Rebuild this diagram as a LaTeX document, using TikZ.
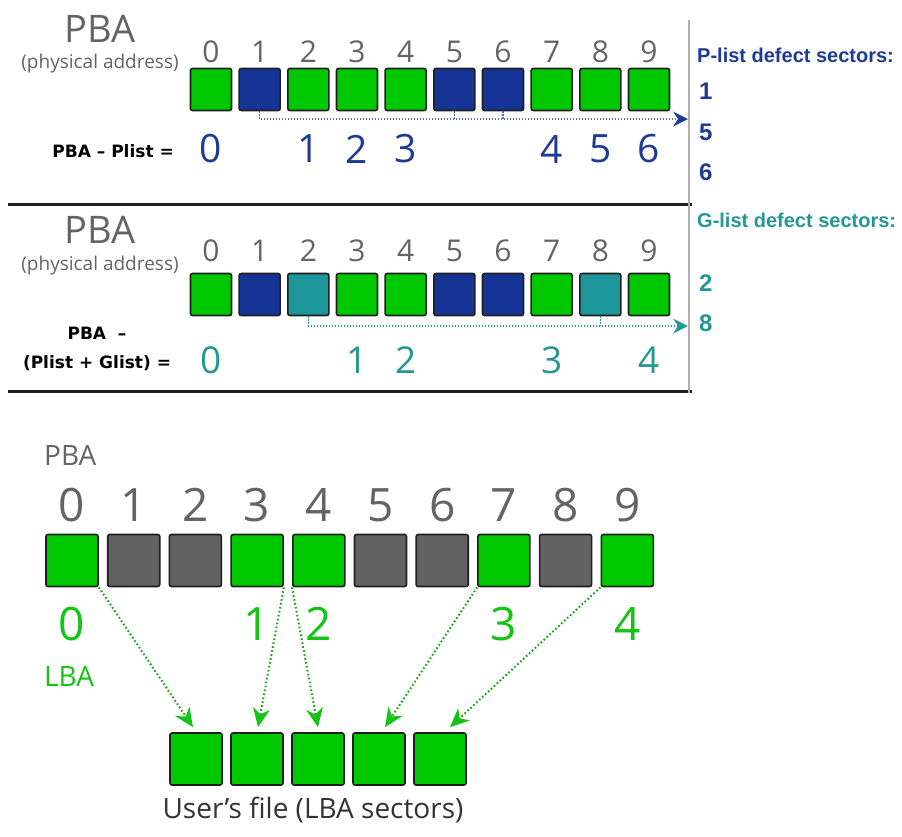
\documentclass[tikz,border=0pt]{standalone}
\usepackage{fontspec}
\setmainfont{Open Sans}
\newfontfamily\labfont{DejaVu Sans}
\newfontfamily\listfont{Liberation Sans}
\usetikzlibrary{arrows.meta,calc}

\definecolor{sqgreen}{RGB}{0,200,0}
\definecolor{sqblue}{RGB}{22,52,150}
\definecolor{sqteal}{RGB}{28,150,152}
\definecolor{sqdark}{RGB}{98,98,98}
\definecolor{sqedge}{RGB}{30,30,30}
\definecolor{txtgray}{RGB}{100,100,100}
\definecolor{txtblue}{RGB}{30,58,150}
\definecolor{txtteal}{RGB}{35,150,150}
\definecolor{txtgreen}{RGB}{20,195,20}
\definecolor{rulegray}{RGB}{175,175,175}

\tikzset{
  cell/.style={draw=sqedge, line width=1.6pt, rounded corners=2pt, inner sep=0pt},
  celltop/.style={cell, minimum width=41pt, minimum height=42pt},
  cellbig/.style={cell, minimum width=52pt, minimum height=52pt},
  fs/.style={font=\fontsize{#1}{#1}\selectfont},
  pbatitle/.style={inner sep=0pt, text=txtgray, fs=38},
  physlabel/.style={inner sep=0pt, text=txtgray, fs=19},
  graynum/.style={inner sep=0pt, text=txtgray, fs=30},
  graynumbig/.style={inner sep=0pt, text=txtgray, fs=46},
  bluenum/.style={inner sep=0pt, text=txtblue, fs=39},
  tealnum/.style={inner sep=0pt, text=txtteal, fs=37},
  greennum/.style={inner sep=0pt, text=txtgreen, fs=46},
  formula/.style={inner sep=0pt, text=black, font=\labfont\bfseries\fontsize{17}{21}\selectfont, align=center},
  listhead/.style={inner sep=0pt, anchor=west, font=\listfont\bfseries\fontsize{20}{20}\selectfont},
  listnum/.style={inner sep=0pt, anchor=west, font=\listfont\bfseries\fontsize{24}{24}\selectfont},
  pdots/.style={draw=txtblue!75, line width=1.4pt, dash pattern=on 1.2pt off 1.8pt},
  gdots/.style={draw=txtteal, line width=1.4pt, dash pattern=on 1.2pt off 1.8pt},
  lbadots/.style={draw=txtgreen!85!black, line width=2pt, dash pattern=on 1.6pt off 2.4pt, shorten >=10pt},
  panelrule/.style={draw=black!88, line width=3pt},
}

\begin{document}
\begin{tikzpicture}[x=1pt,y=-1pt]
\useasboundingbox (0,0) rectangle (902,836);

% ---------- panel 1: factory defect list ----------
\node[pbatitle] (pba1) at (100,28.5) {PBA};
\node[physlabel] (phys1) at (100,64) {(physical address)};
\foreach \c [count=\n from 0] in {sqgreen,sqblue,sqgreen,sqgreen,sqgreen,sqblue,sqblue,sqgreen,sqgreen,sqgreen} {
  \node[celltop, fill=\c] (t\n) at ({211+48.67*\n},89.5) {};
  \node[graynum] (tn\n) at ({211+48.67*\n},52) {\n};
}
\node[formula, anchor=east] (f1) at (174,151) {PBA – Plist =};
\foreach \k/\v in {0/0,2/1,3/2,4/3,7/4,8/5,9/6}
  \node[bluenum] (pl\k) at ({211+48.67*\k},149) {\v};

\coordinate (ptip) at (688,119);
\draw[pdots, shorten >=8pt] (t1.south) |- (ptip);
\fill[txtblue] (ptip) -- +(-15,-7.5) -- +(-10,0) -- +(-15,7.5) -- cycle;
\draw[pdots] (t5.south) -- (t5.south |- ptip);
\draw[pdots] (t6.south) -- (t6.south |- ptip);

\node[listhead, text=txtblue] (phead) at (697,55) {P-list defect sectors:};
\node[listnum, text=txtblue] (pd1) at (699,91) {1};
\node[listnum, text=txtblue] (pd5) at (699,132) {5};
\node[listnum, text=txtblue] (pd6) at (699,172) {6};

% ---------- panel 2: factory + grown defect lists ----------
\node[pbatitle] (pba2) at (100,230) {PBA};
\node[physlabel] (phys2) at (100,266) {(physical address)};
\foreach \c [count=\n from 0] in {sqgreen,sqblue,sqteal,sqgreen,sqgreen,sqblue,sqblue,sqgreen,sqteal,sqgreen} {
  \node[celltop, fill=\c] (m\n) at ({211+48.67*\n},294.5) {};
  \node[graynum] (mn\n) at ({211+48.67*\n},251) {\n};
}
\node[formula] (f2a) at (97,333) {PBA \ –};
\node[formula] (f2b) at (97,363) {(Plist + Glist) =};
\foreach \k/\v in {0/0,3/1,4/2,7/3,9/4}
  \node[tealnum] (gl\k) at ({211+48.67*\k},360) {\v};

\coordinate (gtip) at (688,326);
\draw[gdots, shorten >=8pt] (m2.south) |- (gtip);
\fill[txtteal] (gtip) -- +(-15,-7.5) -- +(-10,0) -- +(-15,7.5) -- cycle;
\draw[gdots] (m8.south) -- (m8.south |- gtip);

\node[listhead, text=txtteal] (ghead) at (697,220) {G-list defect sectors:};
\node[listnum, text=txtteal] (gd2) at (699,283) {2};
\node[listnum, text=txtteal] (gd8) at (699,323) {8};

% panel frame
\coordinate (r1l) at (8,204);
\coordinate (r1r) at (692,204);
\coordinate (r2l) at (8,391);
\coordinate (r2r) at (692,391);
\draw[panelrule] (r1l) -- (r1r);
\draw[panelrule] (r2l) -- (r2r);
\coordinate (vtop) at (689,20);
\coordinate (vbot) at (689,393);
\draw[draw=rulegray, line width=1.5pt] (vtop) -- (vbot);

% ---------- panel 3: PBA to LBA translation ----------
\node[inner sep=0pt, text=txtgray, fs=28, anchor=west] (pba3) at (44,455) {PBA};
\foreach \c [count=\n from 0] in {sqgreen,sqdark,sqdark,sqgreen,sqgreen,sqdark,sqdark,sqgreen,sqdark,sqgreen} {
  \node[cellbig, fill=\c] (b\n) at ({72+61.7*\n},560.5) {};
  \node[graynumbig] (bn\n) at ({72+61.7*\n},505) {\n};
}
\foreach \k/\v in {0/0,3/1,4/2,7/3,9/4}
  \node[greennum] (lb\k) at ({72+61.7*\k},624) {\v};
\node[inner sep=0pt, text=txtgreen, fs=28, anchor=west] (lba) at (44,676) {LBA};

\foreach \n in {0,...,4}
  \node[cellbig, fill=sqgreen] (u\n) at ({196+61*\n},759) {};
\node[inner sep=0pt, text=black!80, fs=28] (ucap) at (313,810) {User’s file (LBA sectors)};

% translation arrows: dotted shaft plus a solid dart head aligned with it
\coordinate (e0) at ([xshift=-3pt,yshift=5pt]u0.north);
\coordinate (e1) at ([xshift=1pt,yshift=5pt]u1.north);
\coordinate (e2) at ([yshift=5pt]u2.north);
\coordinate (e3) at ([xshift=6pt,yshift=5pt]u3.north);
\coordinate (e4) at ([xshift=10pt,yshift=5pt]u4.north);
\foreach \s/\e in {b0.south east/e0, b3.south east/e1, b4.south west/e2, b7.south west/e3, b9.south west/e4} {
  \draw[lbadots] (\s) -- (\e);
  \fill[txtgreen] let \p1=($(\e)-(\s)$), \n1={atan2(\y1,\x1)} in
    (\e) -- ($(\e)+(\n1+156:21pt)$) -- ($(\e)!13pt!(\s)$) -- ($(\e)+(\n1-156:21pt)$) -- cycle;
}
\end{tikzpicture}
\end{document}
